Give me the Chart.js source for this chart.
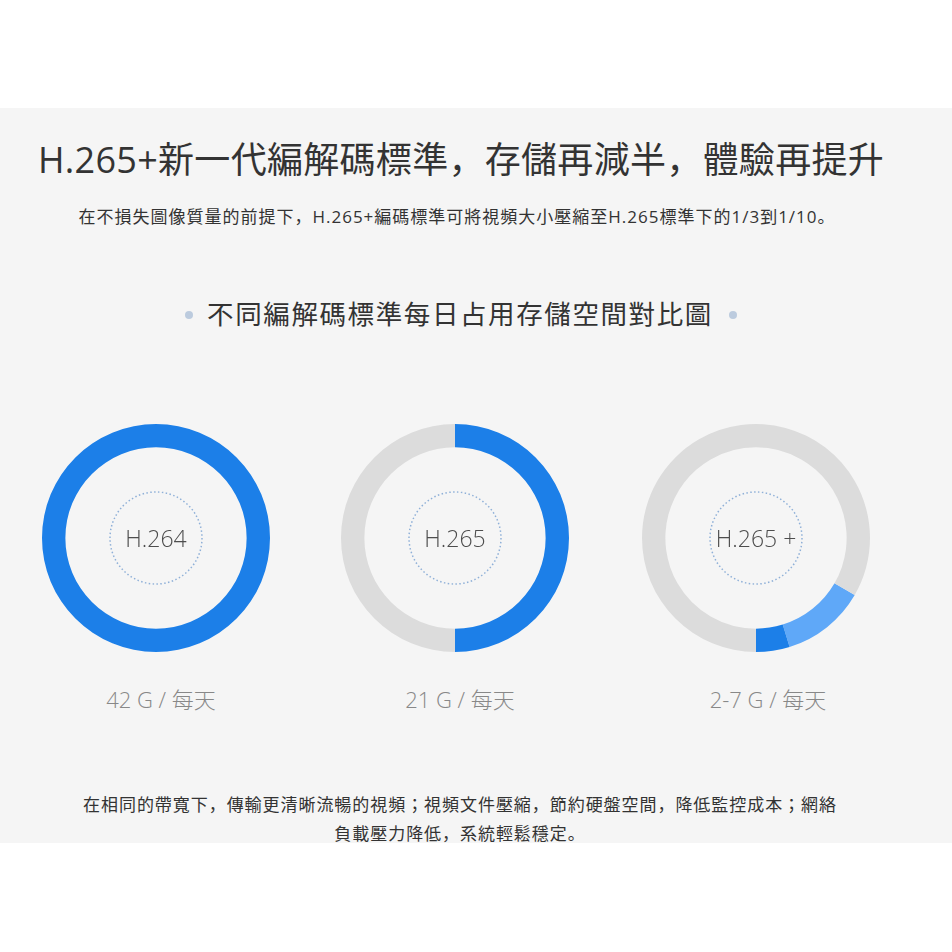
<!DOCTYPE html>
<html>
<head>
<meta charset="utf-8">
<script src="https://cdn.jsdelivr.net/npm/chart.js@4.4.0/dist/chart.umd.min.js"></script>
<style>
body { margin: 0; width: 952px; height: 952px; background: #ffffff; position: relative; overflow: hidden;
	font-family: "Open Sans", "Noto Sans CJK JP", sans-serif; }
.panel { position: absolute; left: 0; top: 108px; width: 952px; height: 735px; background: #f5f5f5; }
.txt { position: absolute; text-align: center; white-space: nowrap; }
#title { left: 0; width: 922px; top: 135px; line-height: 50px; font-size: 36px; letter-spacing: 0.3px; color: #333333; }
#sub { left: 0; width: 914px; top: 204px; line-height: 26px; font-size: 17px; letter-spacing: 1.0px; color: #333333; }
#heading { left: 0; width: 920px; top: 296px; line-height: 36px; font-size: 26.5px; letter-spacing: 1.6px; color: #333333; }
.dot { position: absolute; width: 8px; height: 8px; border-radius: 50%; background: #bccbde; top: 311px; }
.lbl { position: absolute; width: 240px; text-align: center; top: 684px; line-height: 30px; font-size: 22px; color: #888888; font-weight: 300; }
#foot { left: 0; width: 920px; top: 790px; line-height: 29px; font-size: 17px; letter-spacing: 0.95px; color: #333333; }
canvas { position: absolute; }
</style>
</head>
<body>
<div class="panel"></div>
<div class="txt" id="title">H.265+新一代編解碼標準，存儲再減半，體驗再提升</div>
<div class="txt" id="sub">在不損失圖像質量的前提下，H.265+編碼標準可將視頻大小壓縮至H.265標準下的1/3到1/10。</div>
<div class="dot" style="left:185px"></div>
<div class="txt" id="heading">不同編解碼標準每日占用存儲空間對比圖</div>
<div class="dot" style="left:729px"></div>

<canvas id="c0" width="260" height="260" style="left:26px;top:408px"></canvas>
<canvas id="c1" width="260" height="260" style="left:325px;top:408px"></canvas>
<canvas id="c2" width="260" height="260" style="left:626px;top:408px"></canvas>

<div class="lbl" id="l0" style="left:41px"></div>
<div class="lbl" id="l1" style="left:340px"></div>
<div class="lbl" id="l2" style="left:648px"></div>

<div class="txt" id="foot">在相同的帶寬下，傳輸更清晰流暢的視頻；視頻文件壓縮，節約硬盤空間，降低監控成本；網絡<br>負載壓力降低，系統輕鬆穩定。</div>

<script>
// codec names and daily storage (G per day), full ring = 42 G
var codecs = ['H.264', 'H.265', 'H.265 +']
var dailyLabels = ['42 G / 每天', '21 G / 每天', '2-7 G / 每天']
var fullDay = 42

// segments of each ring, clockwise
var h264Values = [42]
var h265Values = [21, 21]
var h265PlusValues = [5, 2, 35]   // 2-7 G range, 2 G minimum, rest empty

var h264Colors = ['#1c7fe8']
var h265Colors = ['#1c7fe8', '#dcdcdc']
var h265PlusColors = ['#5fa8f8', '#1c7fe8', '#dcdcdc']

var centerPlugin = {
	id: 'centerLabel',
	afterDraw: function(chart)
	{
		var ctx = chart.ctx
		var x = (chart.chartArea.left + chart.chartArea.right) / 2
		var y = (chart.chartArea.top + chart.chartArea.bottom) / 2
		ctx.save()
		ctx.beginPath()
		ctx.setLineDash([1.5, 2.4])
		ctx.lineWidth = 1.5
		ctx.strokeStyle = '#8fb0d8'
		ctx.arc(x, y, 46, 0, Math.PI * 2)
		ctx.stroke()
		ctx.setLineDash([])
		ctx.fillStyle = '#4d4d4d'
		ctx.font = '300 23px "Open Sans", sans-serif'
		ctx.textAlign = 'center'
		ctx.textBaseline = 'middle'
		ctx.fillText(chart.options.plugins.centerLabel.text, x, y + 2)
		ctx.restore()
	}
}

function ring(id, values, colors, name, rotation)
{
	var ctx = document.getElementById(id)
	return new Chart(ctx, {
		type: 'doughnut',
		data: {
			labels: values.map(function(v, i){ return name + ' ' + i }),
			datasets: [{
				data: values,
				backgroundColor: colors,
				borderWidth: 0
			}]
		},
		options: {
			responsive: false,
			animation: false,
			cutout: '79.5%',
			rotation: rotation,
			layout: { padding: 16 },
			plugins: {
				legend: { display: false },
				tooltip: { enabled: false },
				centerLabel: { text: name }
			}
		},
		plugins: [centerPlugin]
	})
}

var maxPlus = h265PlusValues[0] + h265PlusValues[1]
ring('c0', h264Values, h264Colors, codecs[0], 0)
ring('c1', h265Values, h265Colors, codecs[1], 0)
ring('c2', h265PlusValues, h265PlusColors, codecs[2], 180 - maxPlus / fullDay * 360)

for (var i = 0; i < dailyLabels.length; i++)
	document.getElementById('l' + i).textContent = dailyLabels[i]
</script>
</body>
</html>
